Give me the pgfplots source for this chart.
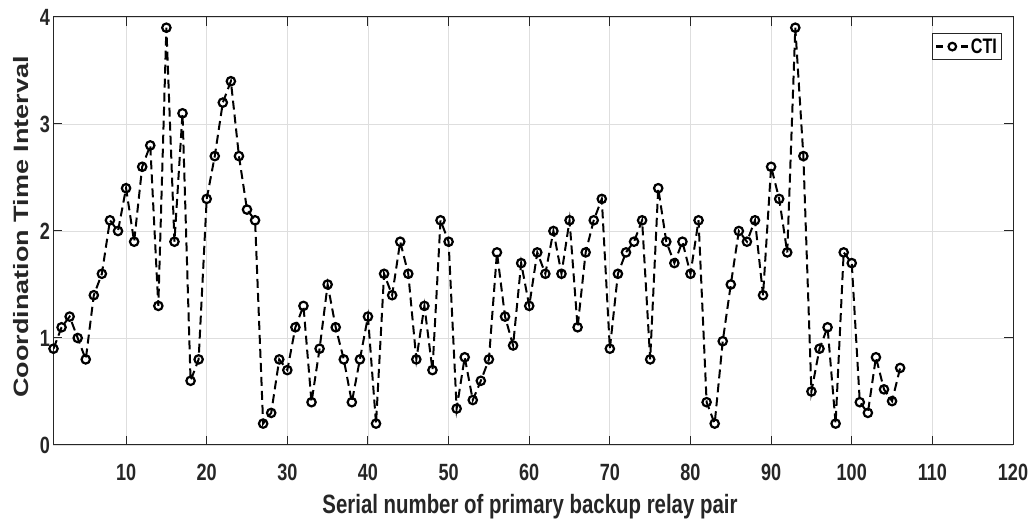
\documentclass[border=0pt]{standalone}
\usepackage{fontspec}
\setmainfont[FakeStretch=0.77]{Liberation Sans}
\newfontfamily\ylfont{Liberation Sans}
\usepackage{graphicx}
\usepackage{pgfplots}
\usepackage{pgfplotstable}
\pgfplotsset{compat=1.18}
\pgfplotstableread{
x y
1 0.9
2 1.1
3 1.2
4 1.0
5 0.8
6 1.4
7 1.6
8 2.1
9 2.0
10 2.4
11 1.9
12 2.6
13 2.8
14 1.3
15 3.9
16 1.9
17 3.1
18 0.6
19 0.8
20 2.3
21 2.7
22 3.2
23 3.4
24 2.7
25 2.2
26 2.1
27 0.2
28 0.3
29 0.8
30 0.7
31 1.1
32 1.3
33 0.4
34 0.9
35 1.5
36 1.1
37 0.8
38 0.4
39 0.8
40 1.2
41 0.2
42 1.6
43 1.4
44 1.9
45 1.6
46 0.8
47 1.3
48 0.7
49 2.1
50 1.9
51 0.34
52 0.82
53 0.42
54 0.6
55 0.8
56 1.8
57 1.2
58 0.93
59 1.7
60 1.3
61 1.8
62 1.6
63 2.0
64 1.6
65 2.1
66 1.1
67 1.8
68 2.1
69 2.3
70 0.9
71 1.6
72 1.8
73 1.9
74 2.1
75 0.8
76 2.4
77 1.9
78 1.7
79 1.9
80 1.6
81 2.1
82 0.4
83 0.2
84 0.97
85 1.5
86 2.0
87 1.9
88 2.1
89 1.4
90 2.6
91 2.3
92 1.8
93 3.9
94 2.7
95 0.5
96 0.9
97 1.1
98 0.2
99 1.8
100 1.7
101 0.4
102 0.3
103 0.82
104 0.52
105 0.41
106 0.72
}\ctidata
\begin{document}
\begin{tikzpicture}
\begin{axis}[name=ax, at={(0,0)}, anchor=south west,
  scale only axis, width=959.5pt, height=428pt,
  xmin=1, xmax=120, ymin=0, ymax=4,
  xtick={10,20,...,120}, ytick={0,1,2,3,4},
  grid=major, major grid style={color=black!13, line width=0.8pt},
  axis line style={color=black!85, line width=1pt},
  tick style={color=black!85, line width=1pt},
  tick align=inside, major tick length=9pt,
  xtick pos=both, ytick pos=both,
  /pgf/number format/assume math mode=true,
  tick label style={font=\bfseries\fontsize{23.5}{24}\selectfont, text=black!85},
  xticklabel style={anchor=base, yshift=-35pt},
  xlabel={Serial number of primary backup relay pair},
  every axis x label/.style={at={(axis description cs:0.4966,-0.161)}, anchor=base, font=\bfseries\fontsize{26.5}{28}\selectfont, text=black!85},
  ylabel={\scalebox{1}[0.77]{\ylfont\bfseries\fontsize{27}{28}\selectfont Coordination Time Interval}},
  every axis y label/.style={at={(axis description cs:-0.0339,0.509)}, rotate=90, anchor=center, text=black!85},
  legend style={at={(axis description cs:0.9885,0.9626)}, anchor=north east,
    draw=black!85, line width=1pt,
    inner xsep=3pt, inner ysep=3pt,
    font=\bfseries\fontsize{21}{22}\selectfont,
    nodes={inner xsep=1.5pt, inner ysep=2pt}},
  legend image code/.code={
    \draw[black, solid, line width=2.2pt] (0pt,0pt) -- (7pt,0pt);
    \draw[black, solid, line width=2.2pt] (25pt,0pt) -- (32pt,0pt);
    \draw[black, solid, line width=2.2pt] plot[mark=o, mark size=3.8pt] coordinates {(16pt,0pt)};},
]
\addplot[black, line width=2pt, dash pattern=on 9pt off 5pt, mark=o, mark size=4.2pt, mark options={solid, line width=2.2pt}] table[x=x, y=y] {\ctidata};
\addlegendentry{CTI}
\end{axis}
\pgfresetboundingbox
\path ([shift={(-53.5pt,-79pt)}]ax.south west) rectangle ([shift={(17pt,17pt)}]ax.north east);
\end{tikzpicture}
\end{document}
